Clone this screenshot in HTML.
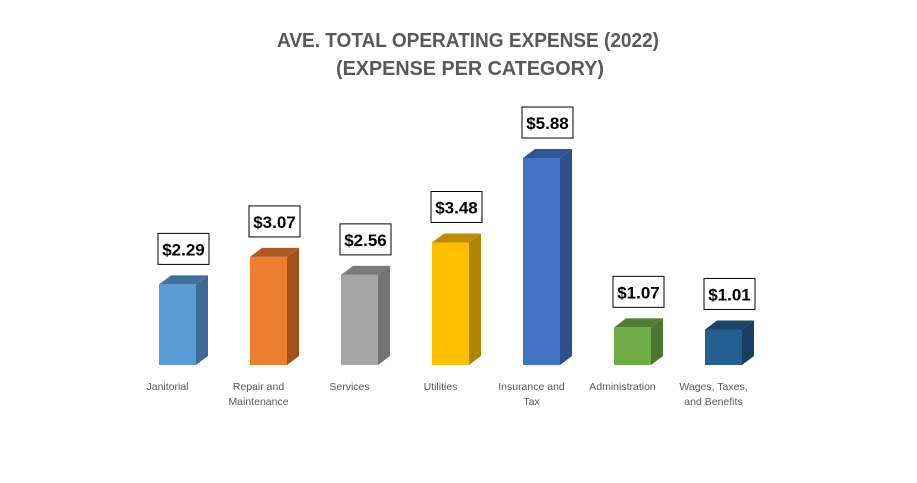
<!DOCTYPE html>
<html><head><meta charset="utf-8"><style>
body{margin:0;background:#fff;}
svg text{font-family:"Liberation Sans",sans-serif;}
</style></head><body>
<svg id="chart" width="917" height="478" viewBox="0 0 917 478" xmlns="http://www.w3.org/2000/svg">
<rect width="917" height="478" fill="#fff"/>
<text x="468" y="47" text-anchor="middle" font-size="20" font-weight="bold" fill="#595959" textLength="382" lengthAdjust="spacingAndGlyphs">AVE. TOTAL OPERATING EXPENSE (2022)</text>
<text x="470" y="75" text-anchor="middle" font-size="20" font-weight="bold" fill="#595959" textLength="268" lengthAdjust="spacingAndGlyphs">(EXPENSE PER CATEGORY)</text>
<g id="bars"></g>
</svg>
<script>
const categories = [["Janitorial"],["Repair and","Maintenance"],["Services"],["Utilities"],["Insurance and","Tax"],["Administration"],["Wages, Taxes,","and Benefits"]];
const values = [2.29,3.07,2.56,3.48,5.88,1.07,1.01];
const valueLabels = ["$2.29","$3.07","$2.56","$3.48","$5.88","$1.07","$1.01"];
const colors = [["#5b9bd5","#41719c","#3e6a93"],["#ed7d31","#ae5a21","#a4521c"],["#a5a5a5","#7b7b7b","#737373"],["#ffc000","#bc8c00","#b08300"],["#4472c4","#2f5597","#2d4f8c"],["#70ad47","#507e32","#4a762f"],["#255e91","#1a4468","#183f60"]];
const baseY = 365, pxPerUnit = 35.2, x0 = 159, step = 91, bw = 37, dx = 12, dy = 9;
const yScale = v => baseY - v * pxPerUnit;
const xScale = i => x0 + i * step;
const g = document.getElementById('bars');
const NS = 'http://www.w3.org/2000/svg';
function mk(tag, attrs){const e=document.createElementNS(NS,tag);for(const k in attrs)e.setAttribute(k,attrs[k]);return e;}
values.forEach((v,i)=>{
  const x = xScale(i), y = yScale(v), c = colors[i];
  const grp = mk('g',{});
  
  
  const side = mk('polygon',{points:`${x+bw},${baseY} ${x+bw+dx},${baseY-dy} ${x+bw+dx},${y-dy} ${x+bw},${y}`,fill:c[2]});
  
  
  const top = mk('polygon',{points:`${x},${y} ${x+dx},${y-dy} ${x+bw+dx},${y-dy} ${x+bw},${y}`,fill:c[1]});
  
  
  const front = mk('rect',{x:x,y:y,width:bw,height:baseY-y,fill:c[0]});
  
  
  grp.append(side,top,front);
  const cx = x + (bw+dx)/2;
  const box = mk('rect',{x:cx-25.5,y:y-51,width:51,height:31,fill:'#fff',stroke:'#000','stroke-width':1});
  
  
  const t = mk('text',{x:cx,y:y-29,'text-anchor':'middle','font-size':17,'font-weight':'bold',fill:'#000'});
  t.textContent = valueLabels[i];
  
  
  grp.append(box,t);
  categories[i].forEach((line,j)=>{
    const ct = mk('text',{x:x+bw/2-10,y:390+j*15,'text-anchor':'middle','font-size':10.5,fill:'#595959'});
    ct.textContent=line;
    
    
    grp.append(ct);
  });
  g.append(grp);
});
</script>
</body></html>
